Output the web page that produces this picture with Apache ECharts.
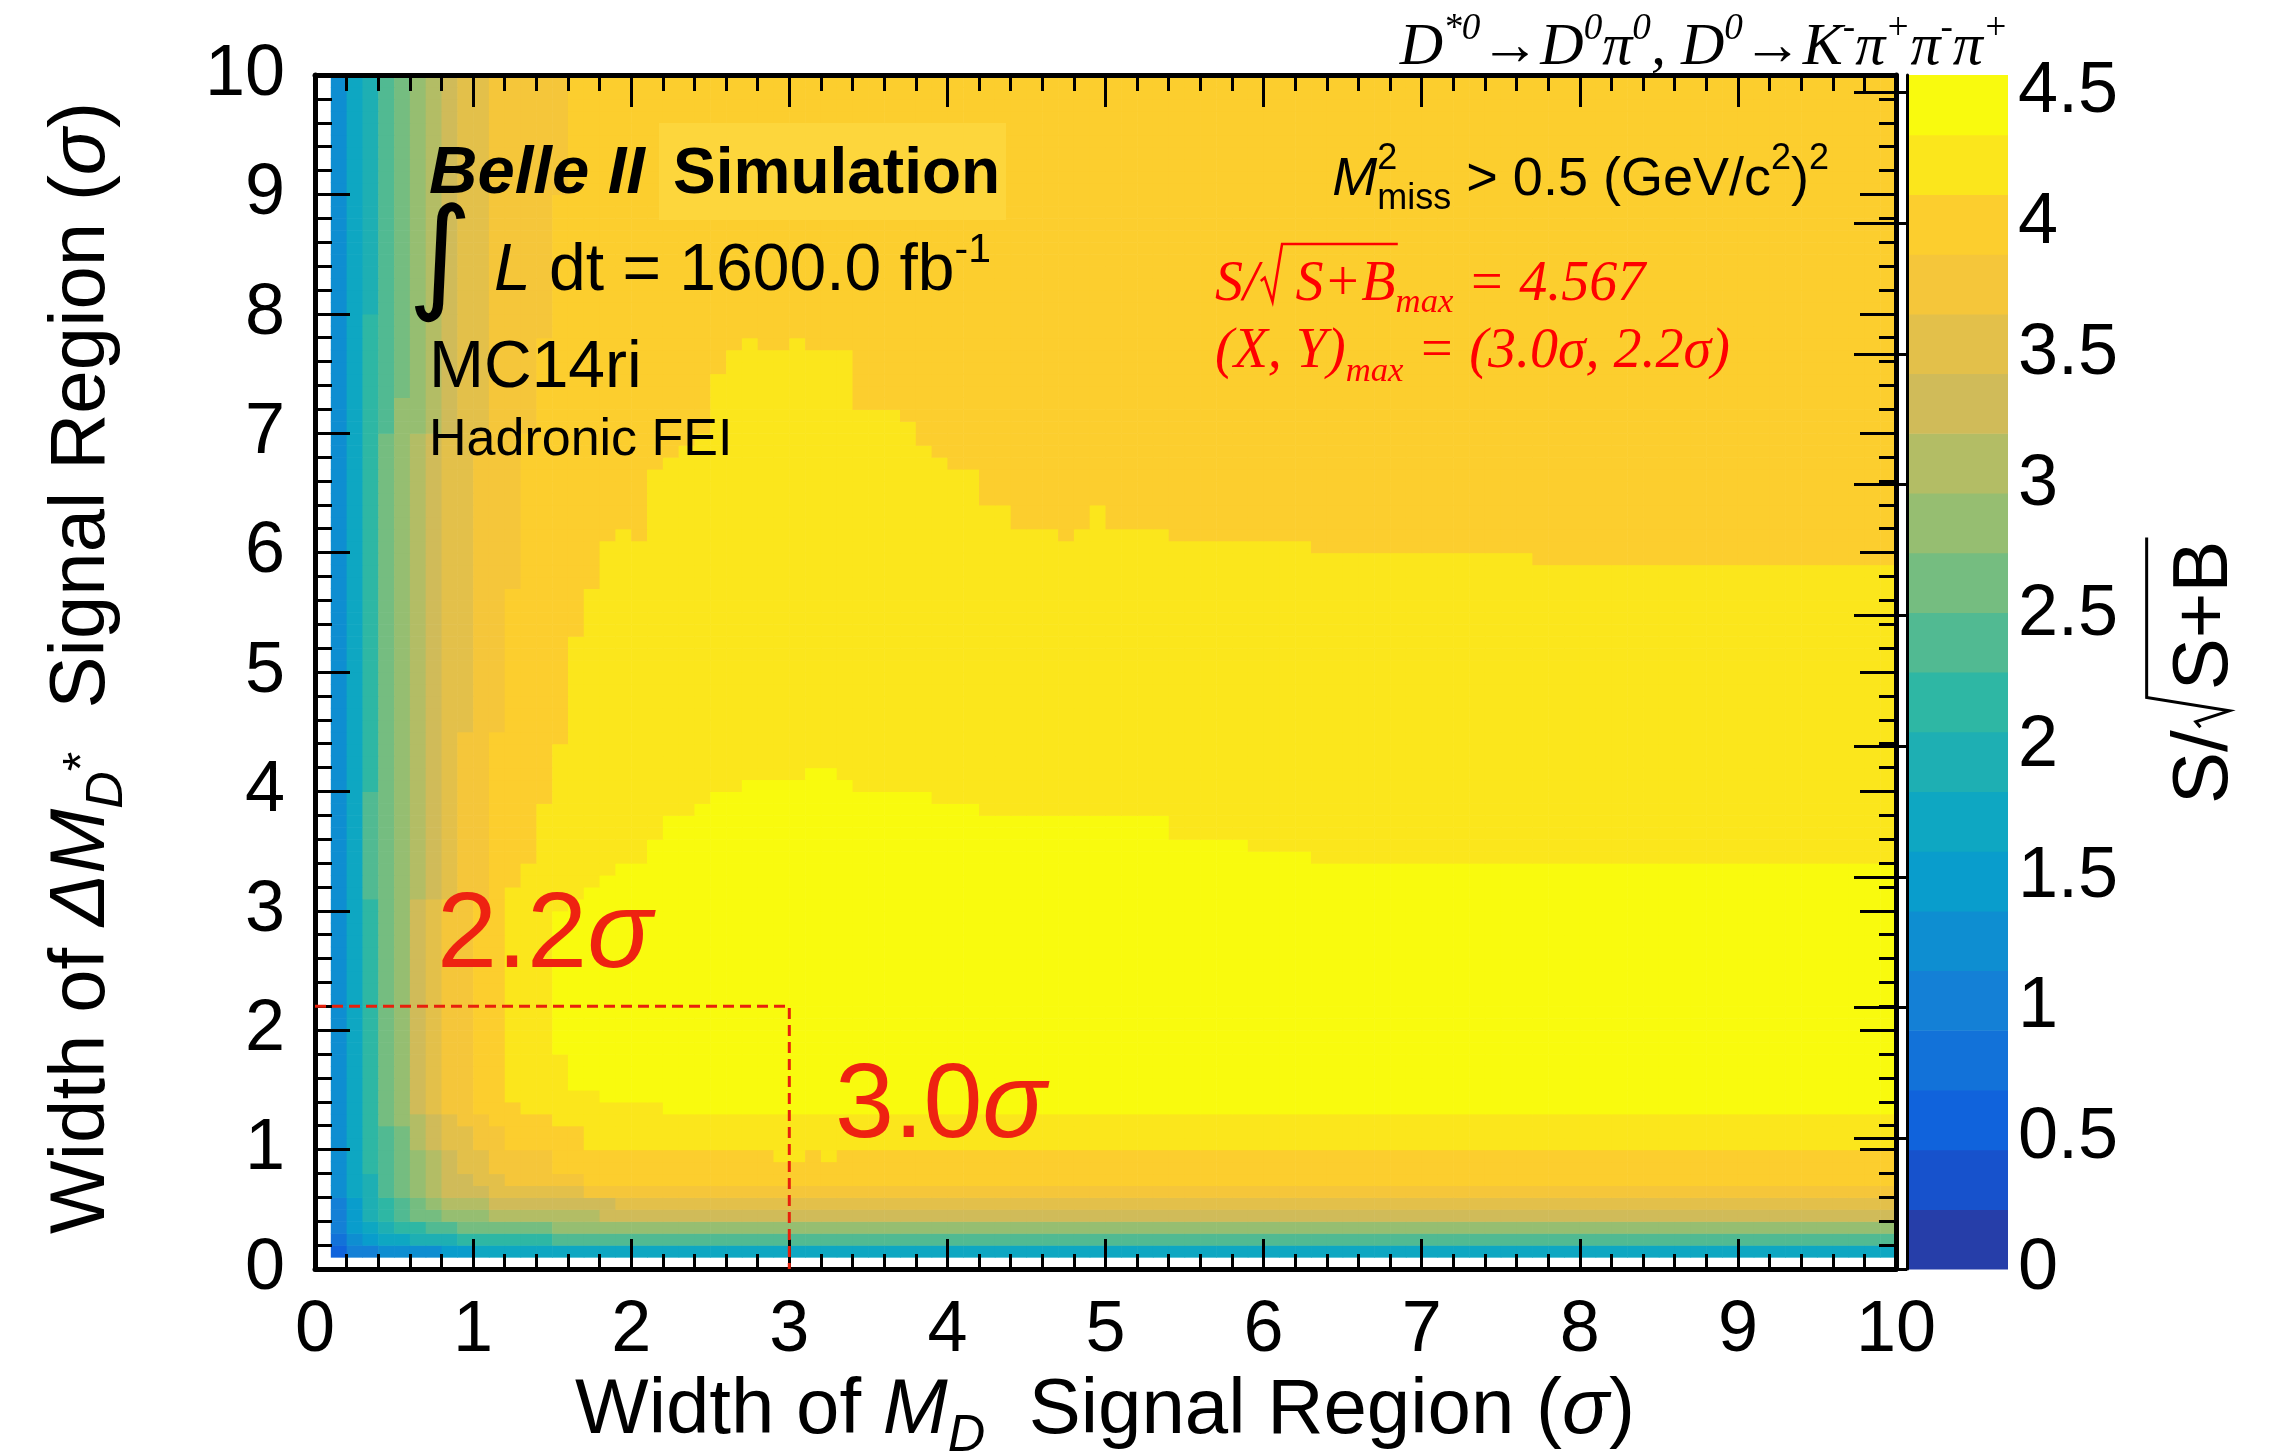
<!DOCTYPE html>
<html><head><meta charset="utf-8">
<script src="https://cdn.jsdelivr.net/npm/echarts@6/dist/echarts.min.js"></script>
<style>html,body{margin:0;padding:0;background:#fff;}#c{width:2269px;height:1454px;}</style>
</head><body><div id="c"></div>
<script>
// ================= DATA =================
// z range of the colour scale and number of ROOT contour levels
const zMax = 4.567;
const nLevels = 20;
const zTickValues = [0, 0.5, 1, 1.5, 2, 2.5, 3, 3.5, 4, 4.5];
const axisMin = 0, axisMax = 10, binW = 0.1;
// colour of each contour band (level 0 .. 19)
const bandColors = ['#263ea9','#1752cc','#1063dc','#1272d9','#1480d6','#0e8ed1','#099dcc','#0ea7c2','#1eafb3','#2eb7a4',
                    '#51ba92','#75bd80','#96be71','#b3bd65','#d0bb59','#e3c04a','#f5c63a','#fcce2e','#fbe61c','#f9fa0e'];
// per row band (rowFrom,rowTo): band levels of the first columns (col 1..n), then the level of the rest
const rowProfiles = [
  [1, 1,  [2,4,4,5,5,5,5,6,6], 7],
  [2, 2,  [3,5,6,7,7,8,8,8,9,9,9,9,9,9], 10],
  [3, 3,  [4,6,7,8,9,9,10,10,11,11,11,11,11,11], 12],
  [4, 4,  [4,6,8,9,10,11,11,12,12,12,13,13,13,13,13,13,13], 14],
  [5, 5,  [4,6,8,9,10,11,12,13,13,13,14,14,14,14,14,14,14,14], 15],
  [6, 6,  [5,7,8,10,11,12,13,14,14,14,15,15,15,15,15,15], 16],
  [7, 7,  [5,7,8,10,11,12,13,14,14,15,15,16,16,16,16,16], 17],
  [8, 9,  [5,7,9,10,11,12,13,14,15,15,16,16,16,16], 17],
  [10,11, [5,7,9,10,11,13,14,15,15,16,16], 17],
  [12,12, [5,7,9,11,12,13,14,15,16,16,17], 17],
  [13,30, [5,7,9,11,12,14,15,16,16], 17],
  [31,39, [5,7,10,11,12,13,14,15,16,16], 17],
  [40,44, [5,7,9,11,12,13,14,15,16,16], 17],
  [45,56, [5,7,9,11,12,13,14,15,15,16,16], 17],
  [57,69, [5,7,9,11,12,13,14,15,15,16,16,16], 17],
  [70,72, [5,7,9,10,12,12,13,14,15,15,16,16,16], 17],
  [73,77, [5,7,9,10,11,12,13,14,15,15,16,16,16], 17],
  [78,79, [5,7,9,10,11,12,13,14,15,15,16,16,16,16], 17],
  [80,89, [5,7,8,10,11,12,13,14,15,15,16,16,16,16], 17],
  [90,99, [5,7,8,10,11,12,13,14,15,15,16,16,16,16,16], 17]
];
// extent of the level-18 and level-19 plateaus: [colFrom, colTo, row]
const top18Runs = [[12,12,31],[13,13,33],[14,14,38],[15,15,43],[16,16,52],[17,17,56],[18,18,60],[19,19,61],[20,20,60],
  [21,21,66],[22,22,67],[23,23,68],[24,24,69],[25,25,74],[26,26,76],[27,27,77],[28,29,76],[30,30,77],[31,33,76],
  [34,36,71],[37,37,70],[38,38,68],[39,39,67],[40,41,66],[42,43,63],[44,46,61],[47,47,60],[48,48,61],[49,49,63],
  [50,53,61],[54,62,60],[63,76,59],[77,99,58]];
const bottom18Runs = [[12,12,14],[13,14,13],[15,16,12],[17,28,10],[29,30,9],[31,31,10],[32,32,9],[33,99,10]];
const top19Runs = [[15,15,29],[16,16,30],[17,17,31],[18,18,32],[19,20,33],[21,21,35],[22,23,37],[24,24,38],[25,26,39],
  [27,30,40],[31,32,41],[33,33,40],[34,38,39],[39,41,38],[42,53,37],[54,58,35],[59,62,34],[63,99,33]];
const bottom19Runs = [[15,15,18],[16,17,15],[18,21,14],[22,99,13]];
// optimum marked on the plot (X, Y)
const optimum = [3.0, 2.2];

// ================= build cells =================
const step = zMax / nLevels;
function runLookup(runs, c, def) { for (const r of runs) if (c >= r[0] && c <= r[1]) return r[2]; return def; }
const cells = [];
for (let r = 1; r <= 99; r++) {
  const prof = rowProfiles.find(p => r >= p[0] && r <= p[1]);
  for (let c = 1; c <= 99; c++) {
    let lvl = c <= prof[2].length ? prof[2][c - 1] : prof[3];
    if (lvl >= 17) {
      if (r >= runLookup(bottom18Runs, c, 999) && r <= runLookup(top18Runs, c, -1)) lvl = 18;
      if (r >= runLookup(bottom19Runs, c, 999) && r <= runLookup(top19Runs, c, -1)) lvl = 19;
    }
    cells.push([c / 10, r / 10, +((lvl + 0.5) * step).toFixed(4)]);
  }
}
const colorBands = bandColors.map((col, i) => [i * step, (i + 1) * step, i]);

// ================= text helpers =================
const SANS = 'Liberation Sans', SERIF = 'Liberation Serif';
const ctx2 = document.createElement('canvas').getContext('2d');
function fnt(p) { return (p.italic ? 'italic ' : '') + (p.bold ? 'bold ' : '') + p.size + 'px "' + p.family + '"'; }
function wid(t, f) { ctx2.font = f; ctx2.textBaseline = 'alphabetic'; return ctx2.measureText(t).width; }
function midOff(f) { ctx2.font = f; ctx2.textBaseline = 'middle'; return ctx2.measureText('H').actualBoundingBoxDescent; }
function buildLine(pieces, base) {
  let x = 0; const items = []; const marks = {};
  for (const pc of pieces) {
    const p = Object.assign({}, base, pc);
    if (pc.sup) { if (pc.size === undefined) p.size = base.size * 0.62; if (pc.dy === undefined) p.dy = -base.size * 0.42; }
    if (pc.sub) { if (pc.size === undefined) p.size = base.size * 0.62; if (pc.dy === undefined) p.dy = base.size * 0.2; }
    if (p.mark) marks[p.mark] = x;
    if (p.gap) { x += p.gap; continue; }
    const f = fnt(p); const w = wid(p.t, f);
    items.push({ t: p.t, font: f, x: x + (p.dx || 0), dy: p.dy || 0, color: p.color });
    if (p.markEnd) marks[p.markEnd] = x + (p.dx || 0) + w;
    if (!p.noAdvance) x += (p.dx || 0) + w;
  }
  return { items, width: x, marks };
}
function textBlock(pieces, base, opt) {
  const L = buildLine(pieces, base);
  const x0 = opt.align === 'right' ? -L.width : (opt.align === 'center' ? -L.width / 2 : 0);
  const children = L.items.map(it => ({
    type: 'text', x: x0 + it.x, y: it.dy - midOff(it.font), z: 100,
    style: { text: it.t, font: it.font, fill: it.color || base.color, textAlign: 'left', textVerticalAlign: 'middle', align: 'left', verticalAlign: 'middle' }
  }));
  if (opt.radical) {
    const s = base.size, xs = x0 + L.marks.r0, xe = x0 + L.marks.r1, h = opt.radical.h * s;
    children.push({ type: 'polyline', z: 100, shape: { points: [[xs + 0.04 * s, -0.34 * s], [xs + 0.11 * s, -0.40 * s], [xs + 0.25 * s, 0.03 * s], [xs + 0.42 * s, -h], [xe + 0.04 * s, -h]] },
      style: { stroke: base.color, fill: null, lineWidth: opt.radical.lw } });
  }
  return { type: 'group', x: opt.x, y: opt.y, rotation: opt.rotation || 0, children };
}

const graphics = [];
// lighter box behind "Simulation"
graphics.push({ type: 'rect', z: 50, shape: { x: 659, y: 123, width: 347, height: 97 }, style: { fill: '#fdd63c' } });
graphics.push(textBlock([{ t: 'Belle II', bold: true, italic: true }], { size: 67, family: SANS, color: '#000' }, { x: 429, y: 193 }));
graphics.push(textBlock([{ t: 'Simulation', bold: true }], { size: 64, family: SANS, color: '#000' }, { x: 673, y: 193 }));
graphics.push(textBlock([{ t: '\u222B' }], { size: 124, family: 'DejaVu Sans', color: '#000' }, { x: 408, y: 296 }));
graphics.push(textBlock([{ t: 'L', italic: true }, { t: ' dt = 1600.0 fb' }, { t: '-1', sup: true }], { size: 66, family: SANS, color: '#000' }, { x: 494, y: 290 }));
graphics.push(textBlock([{ t: 'MC14ri' }], { size: 66, family: SANS, color: '#000' }, { x: 429, y: 387 }));
graphics.push(textBlock([{ t: 'Hadronic FEI' }], { size: 52, family: SANS, color: '#000' }, { x: 429, y: 455 }));
graphics.push(textBlock([{ t: 'M', italic: true }, { t: '2', size: 36, dy: -26, noAdvance: true }, { t: 'miss', size: 36, dy: 14 },
  { t: ' > 0.5 (GeV/c' }, { t: '2', size: 36, dy: -26 }, { t: ')' }, { t: '2', size: 36, dy: -26 }],
  { size: 54, family: SANS, color: '#000' }, { x: 1829, y: 195, align: 'right' }));
graphics.push(textBlock([{ t: 'S/' }, { gap: 37, mark: 'r0' }, { t: 'S+B', markEnd: 'r1' }, { t: 'max', sub: true, dy: 12 }, { t: ' = 4.567' }],
  { size: 56, family: SERIF, italic: true, color: '#ff0000' }, { x: 1215, y: 300, radical: { h: 1.0, lw: 2.5 } }));
graphics.push(textBlock([{ t: '(X, Y)' }, { t: 'max', sub: true, dy: 14 }, { t: ' = (3.0\u03C3, 2.2\u03C3)' }],
  { size: 56, family: SERIF, italic: true, color: '#ff0000' }, { x: 1215, y: 367 }));
graphics.push(textBlock([{ t: 'D' }, { t: '*0', sup: true }, { t: '\u2192', italic: false }, { t: 'D' }, { t: '0', sup: true }, { t: '\u03C0' }, { t: '0', sup: true },
  { t: ', ' }, { t: 'D' }, { t: '0', sup: true }, { t: '\u2192', italic: false }, { t: 'K' }, { t: '-', sup: true }, { t: '\u03C0' }, { t: '+', sup: true },
  { t: '\u03C0' }, { t: '-', sup: true }, { t: '\u03C0' }, { t: '+', sup: true }],
  { size: 60, family: SERIF, italic: true, color: '#000' }, { x: 2008, y: 64, align: 'right' }));
graphics.push(textBlock([{ t: '2.2' }, { t: '\u03C3', italic: true }], { size: 108, family: SANS, color: '#ee2211' }, { x: 437, y: 968 }));
graphics.push(textBlock([{ t: '3.0' }, { t: '\u03C3', italic: true }], { size: 106, family: SANS, color: '#ee2211' }, { x: 835, y: 1137 }));
// axis titles
graphics.push(textBlock([{ t: 'Width of ' }, { t: 'M', italic: true }, { t: 'D', italic: true, size: 52, dy: 18 }, { t: '  Signal Region (' }, { t: '\u03C3', italic: true }, { t: ')' }],
  { size: 78, family: SANS, color: '#000' }, { x: 1105, y: 1433, align: 'center' }));
graphics.push(textBlock([{ t: 'Width of ' }, { t: '\u0394M', italic: true }, { t: 'D', italic: true, size: 52, dy: 18 }, { t: '*', size: 50, dy: -6 }, { t: '  Signal Region (' }, { t: '\u03C3', italic: true }, { t: ')' }],
  { size: 78, family: SANS, color: '#000' }, { x: 104, y: 668, align: 'center', rotation: Math.PI / 2 }));
graphics.push(textBlock([{ t: 'S/' }, { gap: 40, mark: 'r0' }, { t: 'S+B', markEnd: 'r1' }],
  { size: 78, family: SANS, color: '#000' }, { x: 2227, y: 804, rotation: Math.PI / 2, radical: { h: 1.03, lw: 3 } }));

// ================= chart =================
const tickStyle = { color: '#000', width: 3 };
function mainAxis(pos, labels, tickLen, minorLen, margin) {
  return {
    type: 'value', gridIndex: 0, position: pos, min: axisMin, max: axisMax, interval: 1, z: 10,
    splitLine: { show: false },
    axisLine: { show: true, onZero: false, lineStyle: { color: '#000', width: 5 } },
    axisTick: { show: true, inside: true, length: tickLen, lineStyle: tickStyle },
    minorTick: { show: true, splitNumber: 5, length: minorLen, lineStyle: tickStyle },
    axisLabel: { show: labels, fontSize: 72, fontFamily: SANS, color: '#000', margin: margin }
  };
}
const chart = echarts.init(document.getElementById('c'), null, { renderer: 'canvas' });
chart.setOption({
  animation: false,
  backgroundColor: '#fff',
  grid: [
    { left: 315, top: 75, width: 1581, height: 1194 },
    { left: 1907, top: 75, width: 101, height: 1194 }
  ],
  xAxis: [
    mainAxis('bottom', true, 30, 15, 26),
    mainAxis('top', false, 32, 16, 0),
    { type: 'value', gridIndex: 1, min: 0, max: 1, show: false }
  ],
  yAxis: [
    mainAxis('left', true, 35, 17, 30),
    mainAxis('right', false, 36, 17, 0),
    {
      type: 'value', gridIndex: 1, position: 'right', min: 0, max: zMax, z: 10,
      splitLine: { show: false },
      axisLine: { show: true, lineStyle: { color: '#000', width: 3 } },
      axisTick: { show: true, inside: true, length: 53, customValues: zTickValues, lineStyle: tickStyle },
      axisLabel: { show: true, customValues: zTickValues, fontSize: 72, fontFamily: SANS, color: '#000', margin: 10 }
    }
  ],
  series: [
    {
      type: 'custom', name: 'S/sqrt(S+B)', xAxisIndex: 0, yAxisIndex: 0, data: cells, progressive: 0, z: 2, silent: true,
      renderItem: function (params, api) {
        const x = api.value(0), y = api.value(1), v = api.value(2);
        const p0 = api.coord([x, y + binW]), p1 = api.coord([x + binW, y]);
        const idx = Math.max(0, Math.min(nLevels - 1, Math.floor(v / step)));
        return { type: 'rect', shape: { x: p0[0], y: p0[1], width: p1[0] - p0[0] + 0.6, height: p1[1] - p0[1] + 0.6 }, style: { fill: bandColors[idx] } };
      }
    },
    {
      type: 'custom', name: 'palette', xAxisIndex: 2, yAxisIndex: 2, data: colorBands, progressive: 0, z: 2, silent: true,
      renderItem: function (params, api) {
        const lo = api.value(0), hi = api.value(1), i = api.value(2);
        const p0 = api.coord([0, hi]), p1 = api.coord([1, lo]);
        return { type: 'rect', shape: { x: p0[0], y: p0[1], width: p1[0] - p0[0], height: p1[1] - p0[1] + 0.6 }, style: { fill: bandColors[i] } };
      }
    },
    {
      type: 'line', name: 'optimum', xAxisIndex: 0, yAxisIndex: 0, symbol: 'none', z: 12, silent: true,
      data: [[axisMin, optimum[1]], [optimum[0], optimum[1]], [optimum[0], axisMin]],
      lineStyle: { color: '#e8200c', width: 3, type: [11, 6] }
    }
  ],
  graphic: { elements: graphics }
});
</script></body></html>
